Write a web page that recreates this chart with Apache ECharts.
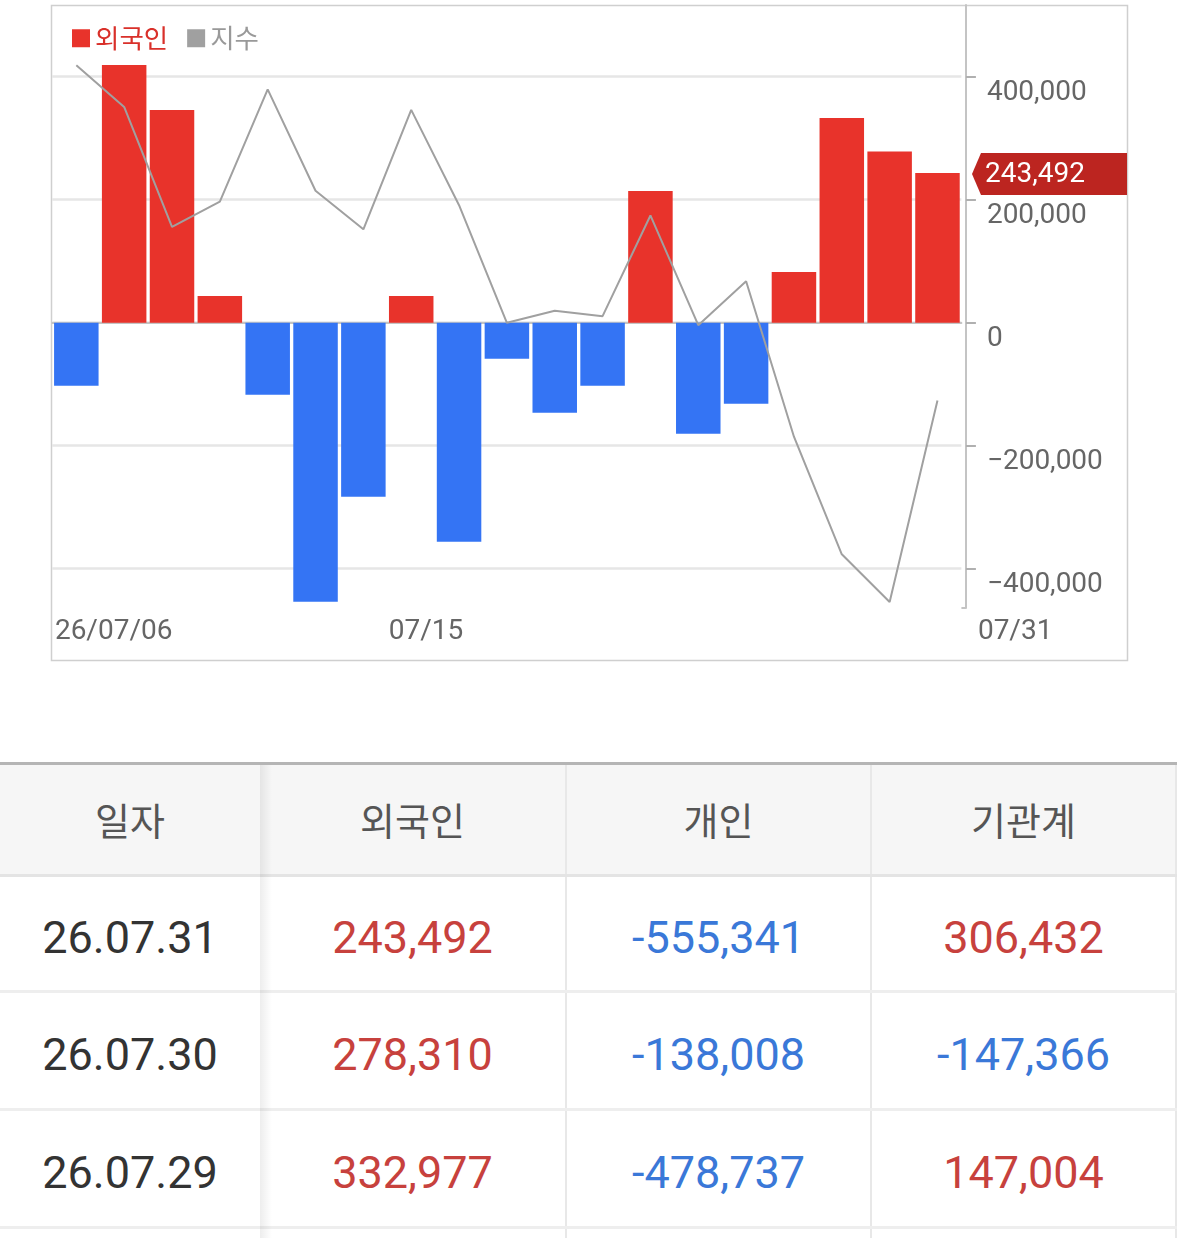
<!DOCTYPE html>
<html>
<head>
<meta charset="utf-8">
<script src="https://cdn.jsdelivr.net/npm/echarts@6/dist/echarts.min.js"></script>
<style>
html,body{margin:0;padding:0;background:#fff;width:1179px;height:1238px;overflow:hidden;}
#chart{position:absolute;left:0;top:0;width:1179px;height:700px;}
#tbl{position:absolute;left:0;top:762px;width:1177px;}
.row{display:flex;box-sizing:border-box;width:1177px;}
.hdr{height:115px;border-top:3px solid #b5b5b5;border-bottom:3px solid #e4e4e4;background:#f6f6f6;}
.drow{height:118px;border-bottom:3px solid #eeeeee;background:#fff;}
.drow.first{height:116px;}
.cell{box-sizing:border-box;display:flex;align-items:center;justify-content:center;border-right:2px solid #e8e8e8;}
.c0{width:260px;border-right:none;}
.c1{width:307px;}
.c2{width:305px;}
.c3{width:305px;}
.hdr .cell{font-family:'Noto Sans CJK KR',sans-serif;font-size:38px;color:#555;padding-bottom:2px;}
.drow .cell{font-family:Roboto,sans-serif;font-size:45px;padding-top:8px;}
#shadow{position:absolute;left:260px;top:765px;width:12px;height:480px;background:linear-gradient(to right,rgba(0,0,0,0.07),rgba(0,0,0,0));}
</style>
</head>
<body>
<div id="chart"></div>
<div id="tbl"></div>
<div id="shadow"></div>
<script>
// ---- chart data ----
const dates = ['07/06','07/07','07/08','07/09','07/10','07/13','07/14','07/15','07/16','07/20','07/21','07/22','07/23','07/24','07/27','07/28','07/29','07/30','07/31'];
const foreign = [-102400, 419000, 345900, 43400, -117100, -453700, -282900, 43400, -356100, -58500, -146300, -102400, 214100, -180500, -131700, 82400, 332977, 278310, 243492];
const indexLine = [90.0, 83.1, 63.2, 67.4, 86.0, 69.2, 62.8, 82.6, 66.8, 47.3, 49.3, 48.4, 65.1, 46.9, 54.2, 28.4, 8.9, 1.0, 34.4];
const seriesNames = ['외국인', '지수'];
const yTicks = [400000, 200000, 0, -200000, -400000];
const xTickIdx = [0, 7, 18];
const xTickLabels = ['26/07/06', '07/15', '07/31'];

// ---- table data ----
const tableHeaders = ['일자', '외국인', '개인', '기관계'];
const tableDates = ['26.07.31', '26.07.30', '26.07.29'];
const tableForeign = [243492, 278310, 332977];
const tableIndividual = [-555341, -138008, -478737];
const tableInstitution = [306432, -147366, 147004];

const RED = '#e8332b', BLUE = '#3474f4', GRAY = '#a0a0a0', TAG = '#bc2520';
const fmtAxis = v => (v < 0 ? '\u2212' : '') + Math.abs(v).toLocaleString('en-US');
const fmt = v => v.toLocaleString('en-US');

const chart = echarts.init(document.getElementById('chart'));
const option = {
  animation: false,
  grid: { left: 52.4, width: 909, top: 5, height: 603 },
  legend: {
    left: 72, top: 25, padding: 0, itemWidth: 18, itemHeight: 18, itemGap: 19, icon: 'rect',
    textStyle: { fontSize: 26.5, fontFamily: "'Noto Sans CJK KR', sans-serif" },
    data: [
      { name: seriesNames[0], itemStyle: { color: RED }, textStyle: { color: '#d9302a' } },
      { name: seriesNames[1], itemStyle: { color: '#a0a0a0' }, textStyle: { color: '#999' } }
    ]
  },
  xAxis: {
    type: 'category', data: dates, boundaryGap: true,
    axisLine: { show: true, lineStyle: { color: '#c4c4c4', width: 2 } },
    axisTick: { show: false }, axisLabel: { show: false }, splitLine: { show: false }
  },
  yAxis: [{
    type: 'value', position: 'right', offset: 4.5, min: -463900, max: 516600,
    axisLine: { show: true, lineStyle: { color: '#c4c4c4', width: 2 } },
    axisTick: { show: true, length: 10, customValues: yTicks, lineStyle: { color: '#b0b0b0', width: 2 } },
    axisLabel: { customValues: yTicks, formatter: fmtAxis, color: '#666', fontSize: 28, fontFamily: 'Roboto', margin: 21, verticalAlign: 'top', padding: [2, 0, 0, 0] },
    splitLine: { show: true, lineStyle: { color: '#e6e6e6', width: 2.5 } }
  }, {
    type: 'value', show: false, min: 0, max: 100
  }],
  series: [{
    name: seriesNames[0], type: 'bar', barWidth: 44.5, itemStyle: { color: RED },
    data: foreign.map(v => ({ value: v, itemStyle: { color: v >= 0 ? RED : BLUE } }))
  }, {
    name: seriesNames[1], type: 'line', yAxisIndex: 1, data: indexLine, symbol: 'none', z: 3,
    lineStyle: { color: GRAY, width: 2 }, itemStyle: { color: GRAY }
  }]
};
chart.setOption(option);

// positions from the axes
const c0 = chart.convertToPixel({ xAxisIndex: 0 }, dates[0]);
const c1 = chart.convertToPixel({ xAxisIndex: 0 }, dates[1]);
const band = c1 - c0;
const bandLeft = i => chart.convertToPixel({ xAxisIndex: 0 }, dates[i]) - band / 2;
const plotRight = bandLeft(dates.length - 1) + band;
const bottomY = chart.convertToPixel({ yAxisIndex: 0 }, option.yAxis[0].min);
const last = foreign[foreign.length - 1];
const ty = chart.convertToPixel({ yAxisIndex: 0 }, last) + 1;

const graphics = [{
  type: 'rect', shape: { x: 51.5, y: 5.5, width: 1076, height: 655 },
  style: { fill: null, stroke: '#cfcfcf', lineWidth: 1.5 }, z: 0, silent: true
}, {
  // short continuation of the bottom axis line to the offset right axis
  type: 'line', shape: { x1: plotRight, y1: bottomY, x2: plotRight + 4.5, y2: bottomY },
  style: { stroke: '#c4c4c4', lineWidth: 2 }, z: 5, silent: true
}];
xTickIdx.forEach((idx, k) => {
  const isLast = k === xTickIdx.length - 1;
  const x = isLast ? plotRight + 16.5 : bandLeft(idx) + (k === 0 ? 2.5 : 1.5);
  graphics.push({
    type: 'text', x: x, y: 632,
    style: { text: xTickLabels[k], fill: '#666', fontSize: 28, fontFamily: 'Roboto', verticalAlign: 'middle', align: 'left' }
  });
});
graphics.push({
  type: 'polygon', z: 10,
  shape: { points: [[972, ty], [981, ty - 21], [1127, ty - 21], [1127, ty + 21], [981, ty + 21]] },
  style: { fill: TAG }
});
graphics.push({
  type: 'text', z: 11, x: 985, y: ty + 1,
  style: { text: fmt(last), fill: '#fff', fontSize: 28, fontFamily: 'Roboto', verticalAlign: 'middle', align: 'left' }
});
chart.setOption({ graphic: graphics });

// ---- table ----
const colorOf = v => v >= 0 ? '#c7413d' : '#3a78d8';
let html = '<div class="row hdr">' + tableHeaders.map((h, i) => '<div class="cell c' + i + '">' + h + '</div>').join('') + '</div>';
tableDates.forEach((d, r) => {
  const vals = [tableForeign[r], tableIndividual[r], tableInstitution[r]];
  html += '<div class="row drow' + (r === 0 ? ' first' : '') + '"><div class="cell c0" style="color:#333">' + d + '</div>' +
    vals.map((v, i) => '<div class="cell c' + (i + 1) + '" style="color:' + colorOf(v) + '">' + fmt(v) + '</div>').join('') + '</div>';
});
html += '<div class="row drow"><div class="cell c0"></div><div class="cell c1"></div><div class="cell c2"></div><div class="cell c3"></div></div>';
document.getElementById('tbl').innerHTML = html;
</script>
</body>
</html>
